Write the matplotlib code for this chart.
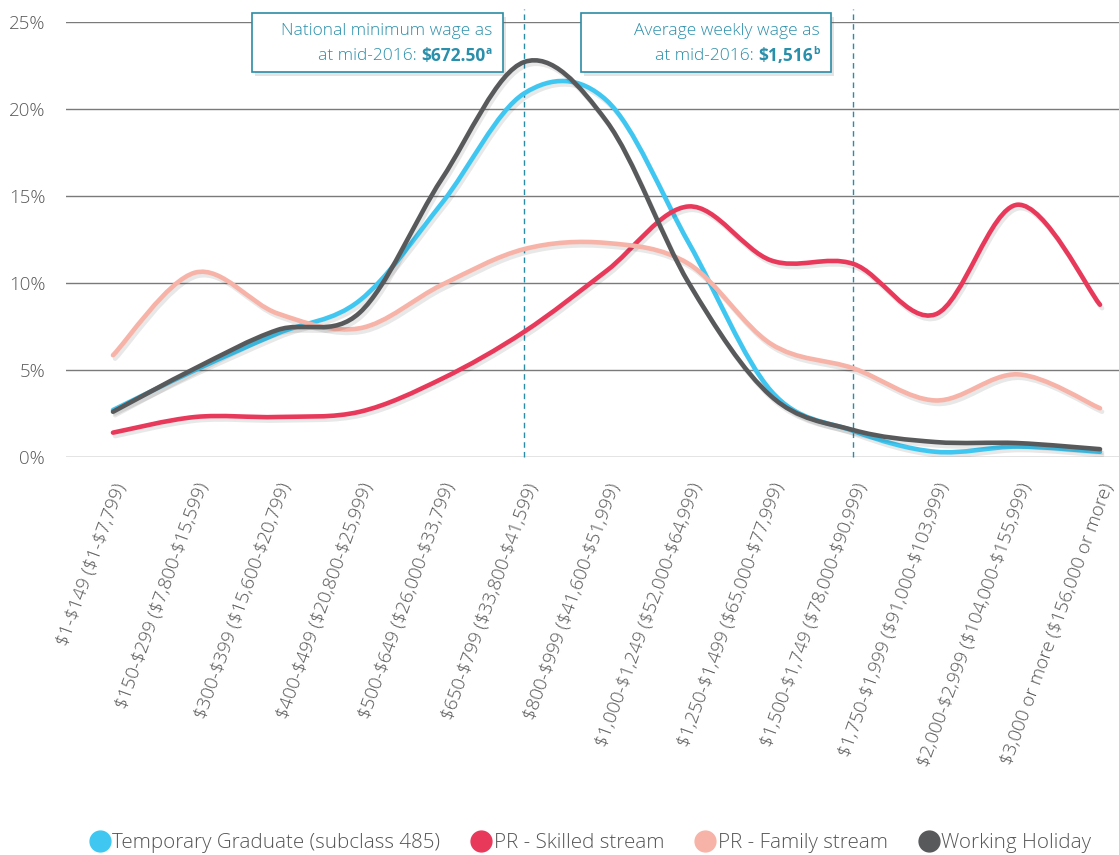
import matplotlib
matplotlib.use("Agg")
import matplotlib.pyplot as plt
import numpy as np
from matplotlib.path import Path
from matplotlib.patches import PathPatch
import matplotlib.patheffects as pe
from matplotlib.lines import Line2D

categories = ["$1-$149 ($1-$7,799)", "$150-$299 ($7,800-$15,599)",
              "$300-$399 ($15,600-$20,799)", "$400-$499 ($20,800-$25,999)",
              "$500-$649 ($26,000-$33,799)", "$650-$799 ($33,800-$41,599)",
              "$800-$999 ($41,600-$51,999)", "$1,000-$1,249 ($52,000-$64,999)",
              "$1,250-$1,499 ($65,000-$77,999)", "$1,500-$1,749 ($78,000-$90,999)",
              "$1,750-$1,999 ($91,000-$103,999)", "$2,000-$2,999 ($104,000-$155,999)",
              "$3,000 or more ($156,000 or more)"]

temp_graduate = [2.7, 5.0, 7.1, 9.0, 14.6, 20.9, 20.5, 12.3, 3.8, 1.5, 0.3, 0.6, 0.3]
pr_skilled = [1.4, 2.3, 2.3, 2.6, 4.5, 7.2, 10.7, 14.4, 11.3, 11.1, 8.2, 14.5, 8.75]
pr_family = [5.85, 10.6, 8.25, 7.4, 9.9, 11.95, 12.3, 11.1, 6.5, 5.1, 3.25, 4.75, 2.8]
working_holiday = [2.6, 5.1, 7.3, 8.3, 16.0, 22.7, 19.3, 10.0, 3.5, 1.55, 0.86, 0.8, 0.45]

series_names = ["Temporary Graduate (subclass 485)", "PR - Skilled stream",
                "PR - Family stream", "Working Holiday"]
series_values = [temp_graduate, pr_skilled, pr_family, working_holiday]
colors = ["#3fc7f2", "#e8395b", "#f7b3a7", "#58595b"]
draw_order = [2, 1, 0, 3]

min_wage_cat = 5
avg_wage_cat = 9

yticks = [0, 5, 10, 15, 20, 25]

FONT = ['Open Sans', 'DejaVu Sans']
plt.rcParams['font.family'] = FONT
plt.rcParams['text.parse_math'] = False

fig = plt.figure(figsize=(11.19, 8.55), dpi=100)
W, H = 1119, 855
ax = fig.add_axes([66 / W, (H - 457) / H, (W - 66) / W, (457 - 22) / H])

spacing = (1100 - 113) / 12
ax.set_xlim(-47 / spacing, 12 + 19 / spacing)
ax.set_ylim(0, 25)


def smooth_path(xs, ys, t=1 / 6):
    xs = np.asarray(xs, float)
    ys = np.asarray(ys, float)
    n = len(xs)
    verts = [(xs[0], ys[0])]
    codes = [Path.MOVETO]
    for i in range(n - 1):
        p0 = np.array([xs[max(i - 1, 0)], ys[max(i - 1, 0)]])
        p1 = np.array([xs[i], ys[i]])
        p2 = np.array([xs[i + 1], ys[i + 1]])
        p3 = np.array([xs[min(i + 2, n - 1)], ys[min(i + 2, n - 1)]])
        c1 = p1 + (p2 - p0) * t
        c2 = p2 - (p3 - p1) * t
        verts += [tuple(c1), tuple(c2), tuple(p2)]
        codes += [Path.CURVE4] * 3
    return Path(verts, codes)


x = np.arange(len(categories))
for i in draw_order:
    patch = PathPatch(smooth_path(x, series_values[i]), facecolor="none",
                      edgecolor=colors[i], lw=3.3, capstyle="round",
                      joinstyle="round", zorder=3 + i,
                      path_effects=[pe.SimpleLineShadow(offset=(1.5, -2.5), alpha=0.09,
                                                        shadow_color="black"),
                                    pe.Normal()])
    ax.add_patch(patch)

for v in yticks:
    ax.axhline(v, color="#7a7a7a", lw=1.0, zorder=1)

for c in (min_wage_cat, avg_wage_cat):
    ax.axvline(c, ymin=0, ymax=1.03, color="#2b8ca6", lw=1.0, ls=(0, (4, 3)),
               zorder=2, clip_on=False)

for s in ax.spines.values():
    s.set_visible(False)
ax.set_yticks(yticks)
ax.set_yticklabels([f"{v}%" for v in yticks], color="#5a5a5a", fontsize=13.5,
                   fontweight="light")
ax.tick_params(axis="y", length=0, pad=15)
ax.set_xticks(x)
ax.set_xticklabels(categories, rotation=70, ha="right", va="top",
                   rotation_mode="anchor", color="#555555", fontsize=13.6,
                   fontweight="light")
ax.tick_params(axis="x", length=0, pad=17)

teal = "#2a8fab"
box_props = dict(facecolor="white", edgecolor="#2b8ca6", lw=1.2)
fig.canvas.draw()
r = fig.canvas.get_renderer()
for (x0, x1, l1, l2a, l2b, sup) in [
        (252, 503, "National minimum wage as", "at mid-2016: ", "$672.50", "a"),
        (581, 831, "Average weekly wage as", "at mid-2016: ", "$1,516", "b")]:
    rect = plt.Rectangle((x0 / W, 1 - 72 / H), (x1 - x0) / W, 59 / H,
                         transform=fig.transFigure, zorder=10, **box_props,
                         path_effects=[pe.SimplePatchShadow(offset=(2, -3), alpha=0.15),
                                       pe.Normal()])
    fig.add_artist(rect)
    fig.text((x1 - 11) / W, 1 - 31 / H, l1, ha="right", va="center", color=teal,
             fontsize=12.5, fontweight="light", zorder=11)
    t_sup = fig.text((x1 - 11) / W, 1 - 51 / H, sup, ha="right", va="center",
                     color=teal, fontsize=7.5, fontweight="bold", zorder=11)
    bb = t_sup.get_window_extent(r)
    t_val = fig.text((bb.x0 - 0.5) / W, 1 - 56 / H, l2b, ha="right", va="center",
                     color=teal, fontsize=12.5, fontweight="bold", zorder=11)
    bb2 = t_val.get_window_extent(r)
    fig.text(bb2.x0 / W, 1 - 56 / H, l2a, ha="right", va="center", color=teal,
             fontsize=12.5, fontweight="light", zorder=11)

handles = [Line2D([], [], marker="o", ls="none", markersize=15,
                  markerfacecolor=c, markeredgecolor=c) for c in colors]
fig.legend(handles, series_names, loc="center", bbox_to_anchor=(0.523, 1 - 843 / H),
           ncol=4, frameon=False, handletextpad=-0.4, columnspacing=1.0,
           prop=dict(size=14.8, weight="light"), labelcolor="#555555")

fig.savefig("out.png", dpi=100)
